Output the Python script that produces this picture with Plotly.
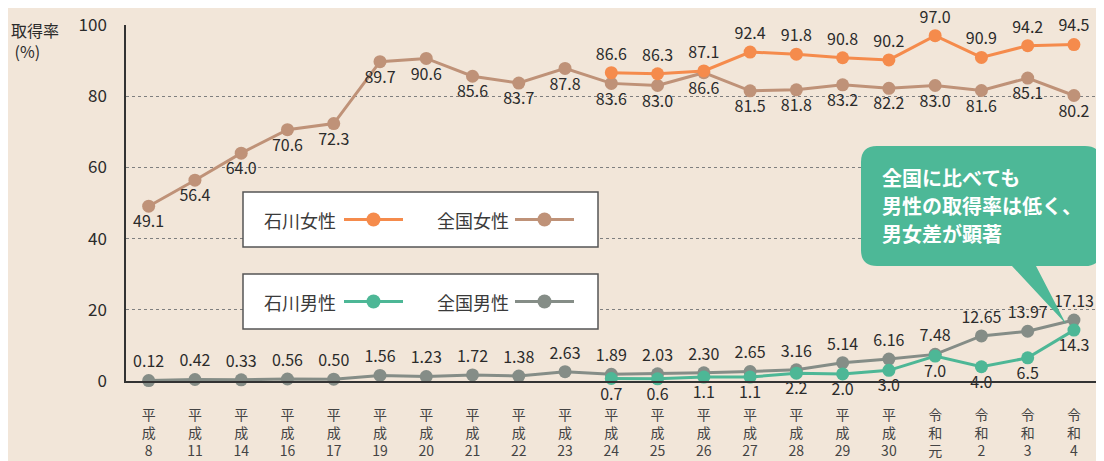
import plotly.graph_objects as go

# ---------------- data ----------------
categories = ["平<br>成<br>8", "平<br>成<br>11", "平<br>成<br>14", "平<br>成<br>16", "平<br>成<br>17",
              "平<br>成<br>19", "平<br>成<br>20", "平<br>成<br>21", "平<br>成<br>22", "平<br>成<br>23",
              "平<br>成<br>24", "平<br>成<br>25", "平<br>成<br>26", "平<br>成<br>27", "平<br>成<br>28",
              "平<br>成<br>29", "平<br>成<br>30", "令<br>和<br>元", "令<br>和<br>2", "令<br>和<br>3", "令<br>和<br>4"]

national_women = [49.1, 56.4, 64.0, 70.6, 72.3, 89.7, 90.6, 85.6, 83.7, 87.8,
                  83.6, 83.0, 86.6, 81.5, 81.8, 83.2, 82.2, 83.0, 81.6, 85.1, 80.2]
ishikawa_women = [86.6, 86.3, 87.1, 92.4, 91.8, 90.8, 90.2, 97.0, 90.9, 94.2, 94.5]
national_men = [0.12, 0.42, 0.33, 0.56, 0.50, 1.56, 1.23, 1.72, 1.38, 2.63,
                1.89, 2.03, 2.30, 2.65, 3.16, 5.14, 6.16, 7.48, 12.65, 13.97, 17.13]
ishikawa_men = [0.7, 0.6, 1.1, 1.1, 2.2, 2.0, 3.0, 7.0, 4.0, 6.5, 14.3]

national_women_text = [f"{v:.1f}" for v in national_women]
ishikawa_women_text = [f"{v:.1f}" for v in ishikawa_women]
national_men_text = [f"{v:.2f}" for v in national_men]
ishikawa_men_text = [f"{v:.1f}" for v in ishikawa_men]

ishikawa_categories = categories[10:]

# ---------------- style ----------------
FONT = "Noto Sans CJK JP"
BG = "#F2E6D9"
C_IW = "#F58B4C"
C_NW = "#BF9278"
C_IM = "#4DB796"
C_NM = "#858D87"
TXT = "#2b2b2b"

# page has an 8px body margin; figure is sized to fill the rest of the window
OFF = 8
W, H = 1104 - OFF, 461 - OFF
# plot area in window pixels
SL, SR, ST, SB = 126, 1098, 25, 381
L, R, T, B = SL - OFF, W - (SR - OFF), ST - OFF, H - (SB - OFF)
PW, PH = SR - SL, SB - ST


def px(x):
    return (x - SL) / PW


def py(y):
    return (SB - y) / PH


fig = go.Figure()


def add_series(xs, ys, texts, color, pos, name):
    fig.add_trace(go.Scatter(
        x=xs, y=ys, mode="lines+markers+text", name=name,
        line=dict(color=color, width=3),
        marker=dict(color=color, size=13),
        text=texts, textposition=pos,
        textfont=dict(family=FONT, size=16, color=TXT),
        cliponaxis=False, showlegend=False,
    ))


add_series(categories, national_women, national_women_text, C_NW, "bottom center", "全国女性")
add_series(ishikawa_categories, ishikawa_women, ishikawa_women_text, C_IW, "top center", "石川女性")
add_series(categories, national_men, national_men_text, C_NM, "top center", "全国男性")
add_series(ishikawa_categories, ishikawa_men, ishikawa_men_text, C_IM, "bottom center", "石川男性")

shapes = []
annotations = []

# legend boxes (manual)
legend_rows = [
    (192, 247, [("石川女性", C_IW, 262, 344, 403), ("全国女性", C_NW, 435, 515, 574)]),
    (274, 329, [("石川男性", C_IM, 262, 344, 403), ("全国男性", C_NM, 435, 515, 574)]),
]
for top, bot, items in legend_rows:
    shapes.append(dict(type="rect", xref="paper", yref="paper",
                       x0=px(243), x1=px(598), y0=py(bot), y1=py(top),
                       fillcolor="white", line=dict(color="#555555", width=1.5), layer="above"))
    cy = (top + bot) / 2
    for label, color, tx, lx0, lx1 in items:
        annotations.append(dict(xref="paper", yref="paper", x=px(tx), y=py(cy),
                                xanchor="left", yanchor="middle", showarrow=False,
                                text=label, font=dict(family=FONT, size=18, color="#3a3a3a")))
        shapes.append(dict(type="line", xref="paper", yref="paper",
                           x0=px(lx0), x1=px(lx1), y0=py(cy), y1=py(cy),
                           line=dict(color=color, width=3), layer="above"))
        mx = (lx0 + lx1) / 2
        r = 7
        shapes.append(dict(type="circle", xref="paper", yref="paper",
                           x0=px(mx - r), x1=px(mx + r), y0=py(cy + r), y1=py(cy - r),
                           fillcolor=color, line=dict(color=color, width=0), layer="above"))

# callout bubble
x0, x1, top, bot, r = 861, 1101, 146, 266, 16


def P(x, y):
    return f"{px(x):.5f},{py(y):.5f}"


path = (f"M {P(x0 + r, top)} L {P(x1 - r, top)} Q {P(x1, top)} {P(x1, top + r)} "
        f"L {P(x1, bot - r)} Q {P(x1, bot)} {P(x1 - r, bot)} "
        f"L {P(1036, bot)} L {P(1066, 324)} L {P(1012, bot)} "
        f"L {P(x0 + r, bot)} Q {P(x0, bot)} {P(x0, bot - r)} "
        f"L {P(x0, top + r)} Q {P(x0, top)} {P(x0 + r, top)} Z")
shapes.append(dict(type="path", xref="paper", yref="paper", path=path,
                   fillcolor="#4DB897", line=dict(width=0), layer="above"))
for i, line in enumerate(["全国に比べても", "男性の取得率は低く、", "男女差が顕著"]):
    annotations.append(dict(xref="paper", yref="paper", x=px(880), y=py(177 + 28 * i),
                            xanchor="left", yanchor="middle", showarrow=False,
                            text=f"<b>{line}</b>",
                            font=dict(family=FONT, size=20, color="white")))

# y-axis title
annotations.append(dict(xref="paper", yref="paper", x=px(9), y=py(40.5),
                        xanchor="left", yanchor="middle", showarrow=False, align="left",
                        text="取得率<br> (%)", font=dict(family=FONT, size=16, color=TXT)))

fig.update_layout(
    width=W, height=H,
    margin=dict(l=L, r=R, t=T, b=B, autoexpand=False),
    paper_bgcolor=BG, plot_bgcolor=BG,
    font=dict(family=FONT, color=TXT),
    shapes=shapes, annotations=annotations,
    showlegend=False,
)
fig.update_xaxes(
    type="category", range=[-0.49, 20.52], automargin=False,
    showgrid=False, zeroline=False,
    showline=True, linecolor="#333333", linewidth=1.5,
    ticks="outside", ticklen=20, tickcolor="rgba(0,0,0,0)",
    tickfont=dict(family=FONT, size=14, color="#444444"),
    tickangle=0,
)
fig.update_yaxes(
    range=[0, 100], tickvals=[0, 20, 40, 60, 80, 100], automargin=False,
    showgrid=True, gridcolor="#7f7f7f", gridwidth=1, griddash="dot",
    zeroline=False,
    showline=True, linecolor="#333333", linewidth=1.5,
    ticks="outside", ticklen=14, tickcolor="rgba(0,0,0,0)",
    tickfont=dict(family=FONT, size=17, color=TXT),
)

fig.write_html("out.html")
